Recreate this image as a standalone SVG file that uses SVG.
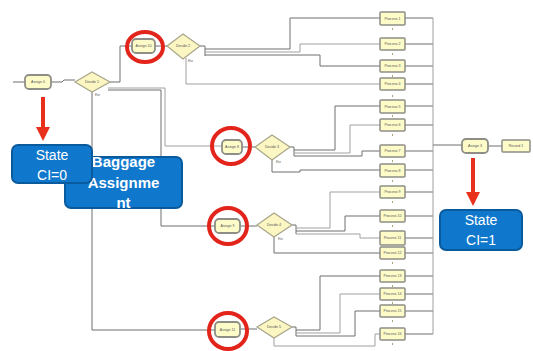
<svg xmlns="http://www.w3.org/2000/svg" width="533" height="351" viewBox="0 0 533 351">
<style>
.c{fill:none;stroke:#6e6e6e;stroke-width:1}
.cl{fill:none;stroke:#a0a0a0;stroke-width:1}
.as{fill:#fdfbc8;stroke:#8e8e86;stroke-width:1.8}
.pr{fill:#fdfbc8;stroke:#8e8e86;stroke-width:1.5}
.dm{fill:#fbf6c2;stroke:#a8a58a;stroke-width:1.2}
.t{font-family:"Liberation Sans",Arial,sans-serif;font-size:3.6px;fill:#555;text-anchor:middle}
.ts{font-family:"Liberation Sans",Arial,sans-serif;font-size:2.6px;fill:#555}
.tick{stroke:#b0a080;stroke-width:1}
.rc{fill:none;stroke:#e3241b;stroke-width:4}
.bl{fill:#0f78cc;stroke:#0a5a9e;stroke-width:2}
.bt{font-family:"Liberation Sans",Arial,sans-serif;font-size:14px;fill:#ffffff;text-anchor:middle}
.bb{font-family:"Liberation Sans",Arial,sans-serif;font-size:15px;font-weight:bold;fill:#ffffff;text-anchor:middle}
.ra{stroke:#e8301c;stroke-width:4;fill:none}
.rh{fill:#e8301c}
</style>
<rect width="533" height="351" fill="#ffffff"/>
<g id="connectors">
<path class="c" d="M13 82H25"/>
<path class="c" d="M51 82H62L64 80H75"/>
<path class="c" d="M110 82H120V46H132"/>
<path class="cl" d="M108 88H165V146H222"/>
<path class="c" d="M108 90H161V226H215"/>
<path class="c" d="M92 92V330H215"/>
<path class="c" d="M155 46H167"/>
<path class="c" d="M200 46H205V56"/>
<path class="c" d="M205 49H290V18H380"/>
<path class="cl" d="M205 52H300V44H380"/>
<path class="c" d="M205 55H320V66H380"/>
<path class="cl" d="M186 58V84H380"/>
<path class="c" d="M242 147H255"/>
<path class="c" d="M290 147H294V156"/>
<path class="c" d="M294 150H335V106H380"/>
<path class="cl" d="M294 153H350V125H380"/>
<path class="c" d="M294 156H362V151H380"/>
<path class="c" d="M272 160V172H300V170H380"/>
<path class="c" d="M240 226H257"/>
<path class="c" d="M292 225H296V234"/>
<path class="cl" d="M296 228H330V192H380"/>
<path class="c" d="M296 231H345V216H380"/>
<path class="cl" d="M296 234H360V238H380"/>
<path class="c" d="M274 237V253H380"/>
<path class="c" d="M240 329H257"/>
<path class="c" d="M292 327H296V336"/>
<path class="c" d="M296 330H320V276H380"/>
<path class="cl" d="M296 333H340V294H380"/>
<path class="c" d="M296 336H355V311H380"/>
<path class="cl" d="M274 338V346H375V334H380"/>
<path class="c" d="M405 18H433M405 44H433M405 66H433M405 84H433M405 106H433M405 125H433M405 151H433M405 170H433M405 192H433M405 216H433M405 238H433M405 253H433M405 276H433M405 294H433M405 311H433M405 334H433"/>
<path class="cl" d="M433 18V334"/>
<path class="c" d="M433 145H462"/>
<path class="c" d="M488 146H502"/>
</g>
<g id="assign0"><rect class="as" x="25" y="75" width="26" height="14" rx="4"/><text class="t" x="38" y="83.3">Assign 0</text></g>
<g id="decide1"><polygon class="dm" points="75,82 92,72 110,82 92,92"/><text class="t" x="92" y="83.3">Decide 1</text><text class="ts" x="95" y="96">Else</text></g>
<g id="assign10"><rect class="as" x="132" y="39" width="23" height="14" rx="4"/><text class="t" x="143.5" y="47.3">Assign 10</text></g>
<g id="decide2"><polygon class="dm" points="167,46 183,34 200,46 183,59"/><text class="t" x="183" y="47.3">Decide 2</text><text class="ts" x="188" y="62">Else</text></g>
<g id="assign8"><rect class="as" x="222" y="140" width="20" height="14" rx="4"/><text class="t" x="232" y="148.3">Assign 8</text></g>
<g id="decide3"><polygon class="dm" points="255,147 272,135 290,147 272,160"/><text class="t" x="272" y="148.3">Decide 3</text><text class="ts" x="276" y="163">Else</text></g>
<g id="assign9"><rect class="as" x="215" y="219" width="25" height="14" rx="4"/><text class="t" x="227.5" y="227.3">Assign 9</text></g>
<g id="decide4"><polygon class="dm" points="257,225 274,213 292,225 274,237"/><text class="t" x="274" y="226.3">Decide 4</text><text class="ts" x="278" y="240">Else</text></g>
<g id="assign11"><rect class="as" x="215" y="322" width="25" height="15" rx="4"/><text class="t" x="227.5" y="330.8">Assign 11</text></g>
<g id="decide5"><polygon class="dm" points="257,327 274,317 292,327 274,338"/><text class="t" x="274" y="328.3">Decide 5</text></g>
<g id="processes">
<rect class="pr" x="380" y="12" width="25" height="13" rx="1"/><text class="t" x="392.5" y="19.8">Process 1</text>
<rect class="pr" x="380" y="38" width="25" height="12" rx="1"/><text class="t" x="392.5" y="45.3">Process 2</text>
<rect class="pr" x="380" y="60" width="25" height="12" rx="1"/><text class="t" x="392.5" y="67.3">Process 3</text>
<rect class="pr" x="380" y="78" width="25" height="12" rx="1"/><text class="t" x="392.5" y="85.3">Process 4</text>
<rect class="pr" x="380" y="100" width="25" height="13" rx="1"/><text class="t" x="392.5" y="107.8">Process 5</text>
<rect class="pr" x="380" y="119" width="25" height="12" rx="1"/><text class="t" x="392.5" y="126.3">Process 6</text>
<rect class="pr" x="380" y="145" width="25" height="12" rx="1"/><text class="t" x="392.5" y="152.3">Process 7</text>
<rect class="pr" x="380" y="164" width="25" height="13" rx="1"/><text class="t" x="392.5" y="171.8">Process 8</text>
<rect class="pr" x="380" y="186" width="25" height="12" rx="1"/><text class="t" x="392.5" y="193.3">Process 9</text>
<rect class="pr" x="380" y="210" width="25" height="12" rx="1"/><text class="t" x="392.5" y="217.3">Process 10</text>
<rect class="pr" x="380" y="231" width="25" height="14" rx="1"/><text class="t" x="392.5" y="239.3">Process 11</text>
<rect class="pr" x="380" y="247" width="25" height="12" rx="1"/><text class="t" x="392.5" y="254.3">Process 12</text>
<rect class="pr" x="380" y="270" width="25" height="12" rx="1"/><text class="t" x="392.5" y="277.3">Process 13</text>
<rect class="pr" x="380" y="288" width="25" height="12" rx="1"/><text class="t" x="392.5" y="295.3">Process 14</text>
<rect class="pr" x="380" y="305" width="25" height="12" rx="1"/><text class="t" x="392.5" y="312.3">Process 15</text>
<rect class="pr" x="380" y="328" width="25" height="12" rx="1"/><text class="t" x="392.5" y="335.3">Process 16</text>
<path class="tick" d="M392.5 28V30M392.5 53V55M392.5 75V77M392.5 95V97M392.5 115V117M392.5 134V136M392.5 160V162M392.5 180V182M392.5 201V203M392.5 225V227M392.5 262V264M392.5 285V287M392.5 302V304M392.5 320V322M392.5 343V345"/>
</g>
<g id="assign3"><rect class="as" x="462" y="139" width="26" height="14" rx="4"/><text class="t" x="475" y="147.3">Assign 3</text></g>
<g id="record1"><rect class="pr" x="502" y="140" width="28" height="12" rx="1"/><text class="t" x="516" y="147.3">Record 1</text></g>
<g id="highlights">
<ellipse class="rc" cx="145" cy="47" rx="18" ry="15"/>
<ellipse class="rc" cx="231" cy="146" rx="19" ry="18"/>
<ellipse class="rc" cx="228" cy="226" rx="19" ry="18"/>
<ellipse class="rc" cx="228" cy="331" rx="19" ry="18"/>
</g>
<g id="arrows">
<path class="ra" d="M43 97V130"/><polygon class="rh" points="36,127 50,127 43,141"/>
<path class="ra" d="M473 158V195"/><polygon class="rh" points="466,192 480,192 473,206"/>
</g>
<g id="baggage"><rect class="bl" x="65" y="157" width="117" height="51" rx="6"/><text class="bb" x="123.5" y="167">Baggage</text><text class="bb" x="123.5" y="188">Assignme</text><text class="bb" x="123.5" y="208">nt</text></g>
<g id="state0"><rect class="bl" x="12" y="145" width="80" height="38" rx="6"/><text class="bt" x="52" y="160">State</text><text class="bt" x="52" y="180">CI=0</text></g>
<g id="state1"><rect class="bl" x="440" y="210" width="82" height="40" rx="6"/><text class="bt" x="481" y="225">State</text><text class="bt" x="481" y="245">CI=1</text></g>
</svg>
